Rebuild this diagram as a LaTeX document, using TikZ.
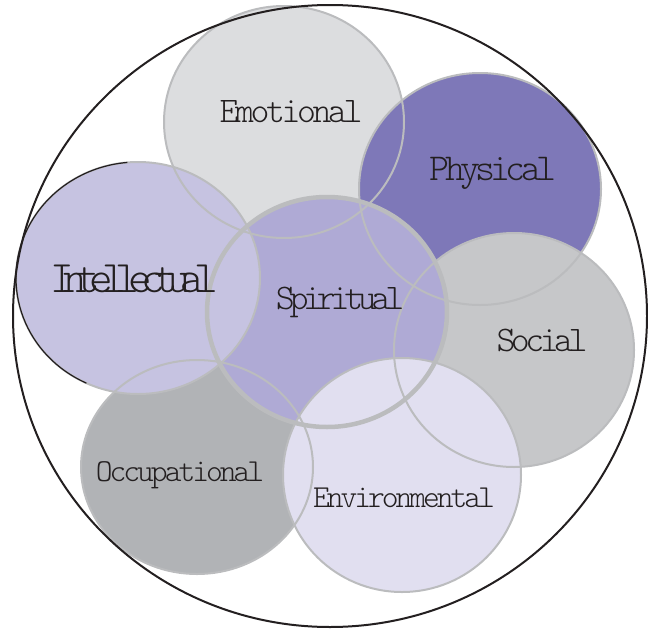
\documentclass[tikz,border=0pt]{standalone}
\usepackage{fontspec}
\newfontfamily\lblfont{lmmonolt10-regular}[Extension=.otf]
\newcommand\lbl[2]{\lblfont\fontsize{#1}{#1}\selectfont\addfontfeature{LetterSpace=#2}}
\definecolor{emocol}{HTML}{DCDDDF}
\definecolor{phycol}{HTML}{7E78B8}
\definecolor{intcol}{HTML}{C6C3E1}
\definecolor{spicol}{HTML}{AFAAD5}
\definecolor{soccol}{HTML}{C6C7C9}
\definecolor{occcol}{HTML}{B1B3B6}
\definecolor{envcol}{HTML}{E1DFF0}
\definecolor{rimcol}{HTML}{BBBCBE}
\definecolor{inkcol}{HTML}{231F20}
\begin{document}
\begin{tikzpicture}
	[x=1pt,y=-1pt,
	rim/.style={draw=rimcol,line width=2pt},
	word/.style={inner sep=0pt,anchor=base,text=inkcol}]
	\useasboundingbox (0,0) rectangle (648,629);
	% fills, back to front
	\fill[emocol] (284,122) ellipse [x radius=120,y radius=116];
	\fill[phycol] (480,189) ellipse [x radius=121,y radius=116];
	\fill[soccol] (514,350) ellipse [x radius=120,y radius=117];
	\fill[occcol] (197,467) ellipse [x radius=116,y radius=107];
	\fill[spicol] (327,312) ellipse [x radius=120,y radius=115];
	\fill[intcol] (138,278) ellipse [x radius=122,y radius=116];
	\fill[envcol] (402,475) ellipse [x radius=119,y radius=117];
	% outlines
	\draw[rim] (284,122) ellipse [x radius=120,y radius=116];
	\draw[rim] (480,189) ellipse [x radius=121,y radius=116];
	\draw[rim] (514,350) ellipse [x radius=120,y radius=117];
	\draw[rim] (197,467) ellipse [x radius=116,y radius=107];
	\draw[rim] (138,278) ellipse [x radius=122,y radius=116];
	\draw[inkcol,line width=1.2pt] (138,278) ++(115:122 and 116)
		arc [start angle=115,end angle=265,x radius=122,y radius=116];
	\draw[rim] (402,475) ellipse [x radius=119,y radius=117];
	\draw[rim,line width=4.5pt] (327,312) ellipse [x radius=120,y radius=115];
	\draw[inkcol,line width=2pt] (330,316) ellipse [x radius=317,y radius=311];
	% labels
	\node[word,font=\lbl{36}{-9.5}] (emo) at (291,122) {Emotional};
	\node[word,font=\lbl{38}{-12.5}] (phy) at (493,180) {Physical};
	\node[word,font=\lbl{45}{-23.5}] (int) at (134,292) {Intellectual};
	\node[word,font=\lbl{36}{-14.5}] (spi) at (340,309) {Spiritual};
	\node[word,font=\lbl{36}{-12.5}] (soc) at (542,351) {Social};
	\node[word,font=\lbl{32}{-9.5}] (occ) at (180,481) {Occupational};
	\node[word,font=\lbl{32}{-9.5}] (env) at (404,507) {Environmental};
\end{tikzpicture}
\end{document}
